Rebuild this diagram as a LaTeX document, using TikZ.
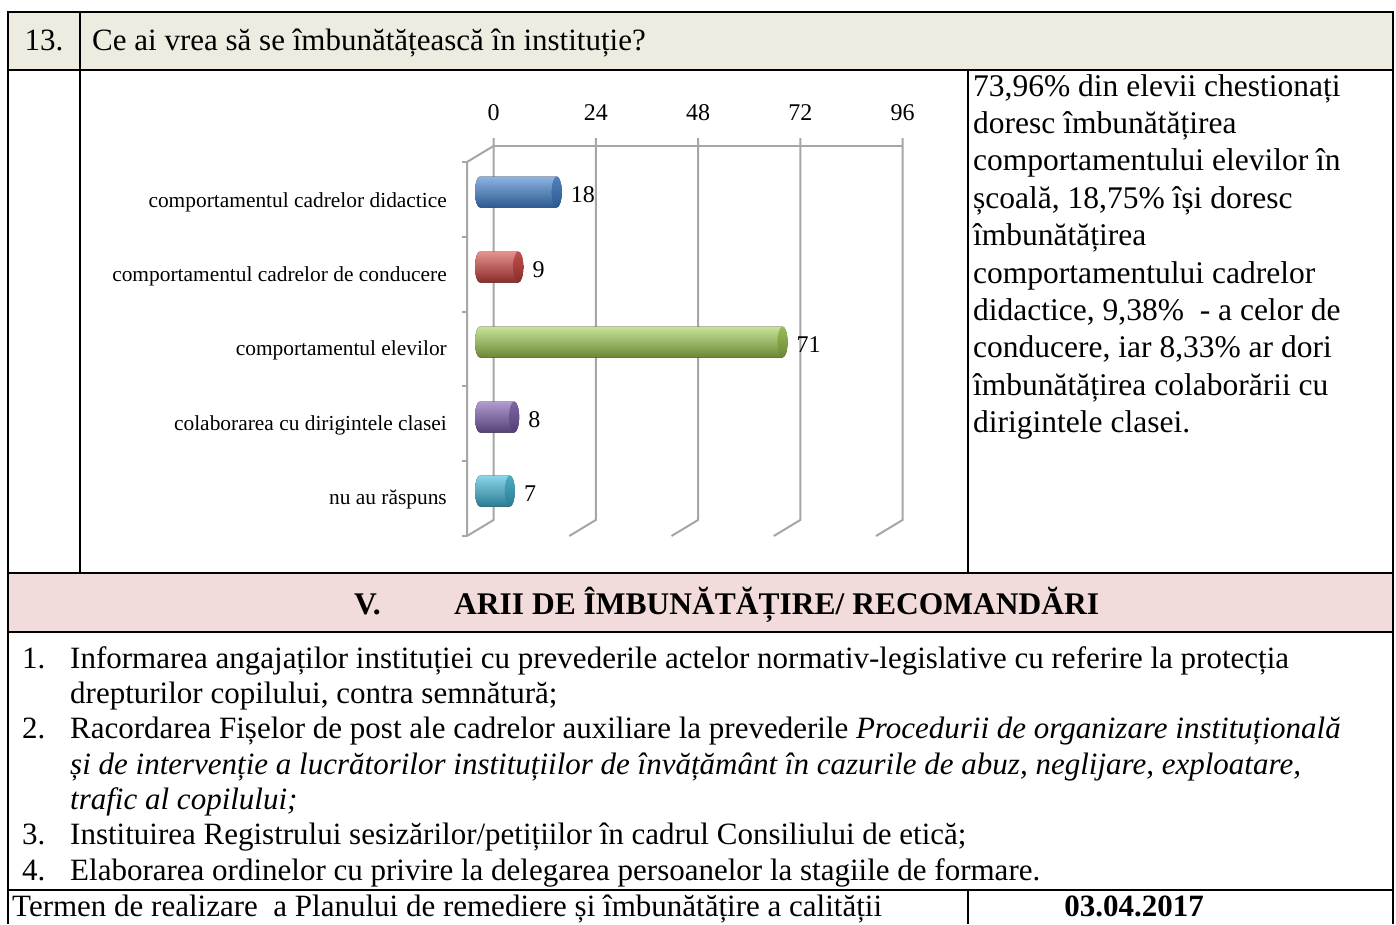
\documentclass[tikz,border=0pt]{standalone}
\usepackage{fontspec}
\setmainfont{Liberation Serif}
\usepackage{tikz}

\definecolor{headfill}{HTML}{EEECE1}
\definecolor{secfill}{HTML}{F2DCDB}
\definecolor{gridgray}{HTML}{A6A6A6}
\definecolor{blueL}{HTML}{8DB3E2}\definecolor{blueM}{HTML}{4F81BD}\definecolor{blueD}{HTML}{2B5A90}
\definecolor{redL}{HTML}{E6928F}\definecolor{redM}{HTML}{C0504D}\definecolor{redD}{HTML}{8A2C2A}
\definecolor{greenL}{HTML}{C8E39A}\definecolor{greenM}{HTML}{9BBB59}\definecolor{greenD}{HTML}{6A8834}
\definecolor{purpleL}{HTML}{B19CD0}\definecolor{purpleM}{HTML}{8064A2}\definecolor{purpleD}{HTML}{553F78}
\definecolor{cyanL}{HTML}{8AD6EA}\definecolor{cyanM}{HTML}{4BACC6}\definecolor{cyanD}{HTML}{2A7B93}

\begin{document}
\begin{tikzpicture}[x=1pt, y=-1pt]

    \tikzstyle{txt} = [font=\fontsize{31}{35}\selectfont, inner sep=0pt, anchor=base west]
    \tikzstyle{note} = [font=\fontsize{31.5}{37}\selectfont, inner sep=0pt, anchor=base west]
    \tikzstyle{sec} = [font=\fontsize{31.5}{35}\selectfont\bfseries, inner sep=0pt, anchor=base west]
    \tikzstyle{cat} = [font=\fontsize{21.4}{24}\selectfont, inner sep=0pt, anchor=east]
    \tikzstyle{num} = [font=\fontsize{24}{28}\selectfont, inner sep=0pt]
    \tikzstyle{grid} = [draw=gridgray, line width=2pt]
    \tikzstyle{rule} = [draw=black, line width=2.2pt]

    \useasboundingbox (0,0) rectangle (1396,924);

    % Fills
    \fill[headfill] (8,12) rectangle (1393,70);
    \fill[secfill] (8,573) rectangle (1393,632);

    % Table rules
    \draw[rule] (8,924) -- (8,12) -- (1393,12) -- (1393,924);
    \draw[rule] (8,70) -- (1393,70);
    \draw[rule] (8,573) -- (1393,573);
    \draw[rule] (8,632) -- (1393,632);
    \draw[rule] (8,890) -- (1393,890);
    \draw[rule] (80,12) -- (80,573);
    \draw[rule] (968,70) -- (968,573);
    \draw[rule] (968,890) -- (968,924);

    % Question
    \node[txt, anchor=base] (qnum) at (44,50) {13.};
    \node[txt] (qtext) at (92,50) {Ce ai vrea să se îmbunătățească în instituție?};

    % Walls of the chart
    \draw[grid] (493.5,146) -- (902.5,146);
    \draw[grid] (493.5,138) -- (493.5,520) -- (467,536);
    \draw[grid] (595.75,138) -- (595.75,520) -- (569.25,536);
    \draw[grid] (698,138) -- (698,520) -- (671.5,536);
    \draw[grid] (800.25,138) -- (800.25,520) -- (773.75,536);
    \draw[grid] (902.5,138) -- (902.5,520) -- (876,536);
    \draw[grid] (493.5,146) -- (467,162) -- (467,536);
    \draw[grid] (462,162) -- (467,162);
    \draw[grid] (462,236.8) -- (467,236.8);
    \draw[grid] (462,311.6) -- (467,311.6);
    \draw[grid] (462,386.4) -- (467,386.4);
    \draw[grid] (462,461.2) -- (467,461.2);
    \draw[grid] (462,536) -- (467,536);

    % Axis values
    \node[num] (ax0) at (493.5,113) {0};
    \node[num] (ax24) at (595.75,113) {24};
    \node[num] (ax48) at (698,113) {48};
    \node[num] (ax72) at (800.25,113) {72};
    \node[num] (ax96) at (902.5,113) {96};

    % Categories
    \node[cat] (didac) at (447,202) {comportamentul cadrelor didactice};
    \node[cat] (cond) at (447,276) {comportamentul cadrelor de conducere};
    \node[cat] (elev) at (447,350) {comportamentul elevilor};
    \node[cat] (dirig) at (447,425) {colaborarea cu dirigintele clasei};
    \node[cat] (nurasp) at (447,499) {nu au răspuns};

    % Cylinders
    \fill[top color=blueL, middle color=blueM, bottom color=blueD] (480,176.5) -- (556.7,176.5)
        arc[start angle=-90, end angle=90, x radius=5, y radius=15.5] -- (480,207.5)
        arc[start angle=90, end angle=270, x radius=5, y radius=15.5] -- cycle;
    \shade[top color=blueM, bottom color=blueD] (556.7,192) ellipse[x radius=5, y radius=15.5];

    \fill[top color=redL, middle color=redM, bottom color=redD] (480,251.5) -- (518.3,251.5)
        arc[start angle=-90, end angle=90, x radius=5, y radius=15.5] -- (480,282.5)
        arc[start angle=90, end angle=270, x radius=5, y radius=15.5] -- cycle;
    \shade[top color=redM, bottom color=redD] (518.3,267) ellipse[x radius=5, y radius=15.5];

    \fill[top color=greenL, middle color=greenM, bottom color=greenD] (480,326.5) -- (782.5,326.5)
        arc[start angle=-90, end angle=90, x radius=5, y radius=15.5] -- (480,357.5)
        arc[start angle=90, end angle=270, x radius=5, y radius=15.5] -- cycle;
    \shade[top color=greenM, bottom color=greenD] (782.5,342) ellipse[x radius=5, y radius=15.5];

    \fill[top color=purpleL, middle color=purpleM, bottom color=purpleD] (480,401.5) -- (514.1,401.5)
        arc[start angle=-90, end angle=90, x radius=5, y radius=15.5] -- (480,432.5)
        arc[start angle=90, end angle=270, x radius=5, y radius=15.5] -- cycle;
    \shade[top color=purpleM, bottom color=purpleD] (514.1,417) ellipse[x radius=5, y radius=15.5];

    \fill[top color=cyanL, middle color=cyanM, bottom color=cyanD] (480,475.5) -- (509.8,475.5)
        arc[start angle=-90, end angle=90, x radius=5, y radius=15.5] -- (480,506.5)
        arc[start angle=90, end angle=270, x radius=5, y radius=15.5] -- cycle;
    \shade[top color=cyanM, bottom color=cyanD] (509.8,491) ellipse[x radius=5, y radius=15.5];

    % Values
    \node[num, anchor=west] (v18) at (570.7,195) {18};
    \node[num, anchor=west] (v9) at (532.3,270) {9};
    \node[num, anchor=west] (v71) at (796.5,345) {71};
    \node[num, anchor=west] (v8) at (528.1,420) {8};
    \node[num, anchor=west] (v7) at (523.8,494) {7};

    % Comment on the right
    \node[note] (n1) at (973,96) {73,96\% din elevii chestionați};
    \node[note] (n2) at (973,133.4) {doresc îmbunătățirea};
    \node[note] (n3) at (973,170.8) {comportamentului elevilor în};
    \node[note] (n4) at (973,208.2) {școală, 18,75\% își doresc};
    \node[note] (n5) at (973,245.6) {îmbunătățirea};
    \node[note] (n6) at (973,283) {comportamentului cadrelor};
    \node[note] (n7) at (973,320.4) {didactice, 9,38\% \ - a celor de};
    \node[note] (n8) at (973,357.8) {conducere, iar 8,33\% ar dori};
    \node[note] (n9) at (973,395.2) {îmbunătățirea colaborării cu};
    \node[note] (n10) at (973,432.6) {dirigintele clasei.};

    % Section V
    \node[sec] (secnum) at (354,614) {V.};
    \node[sec] (sectitle) at (454,614) {ARII DE ÎMBUNĂTĂȚIRE/ RECOMANDĂRI};

    % Recommendations
    \node[txt] (i1) at (22,668) {1.};
    \node[txt] (i1a) at (70,668) {Informarea angajaților instituției cu prevederile actelor normativ-legislative cu referire la protecția};
    \node[txt] (i1b) at (70,703.3) {drepturilor copilului, contra semnătură;};
    \node[txt] (i2) at (22,738.6) {2.};
    \node[txt] (i2a) at (70,738.6) {Racordarea Fișelor de post ale cadrelor auxiliare la prevederile \textit{Procedurii de organizare instituțională}};
    \node[txt] (i2b) at (70,774) {\textit{și de intervenție a lucrătorilor instituțiilor de învățământ în cazurile de abuz, neglijare, exploatare,}};
    \node[txt] (i2c) at (70,809.3) {\textit{trafic al copilului;}};
    \node[txt] (i3) at (22,844.6) {3.};
    \node[txt] (i3a) at (70,844.6) {Instituirea Registrului sesizărilor/petițiilor în cadrul Consiliului de etică;};
    \node[txt] (i4) at (22,880) {4.};
    \node[txt] (i4a) at (70,880) {Elaborarea ordinelor cu privire la delegarea persoanelor la stagiile de formare.};

    % Deadline
    \node[txt] (term) at (12,916) {Termen de realizare \ a Planului de remediere și îmbunătățire a calității};
    \node[txt, anchor=base, font=\fontsize{31}{35}\selectfont\bfseries] (date) at (1134,916) {03.04.2017};

\end{tikzpicture}
\end{document}
